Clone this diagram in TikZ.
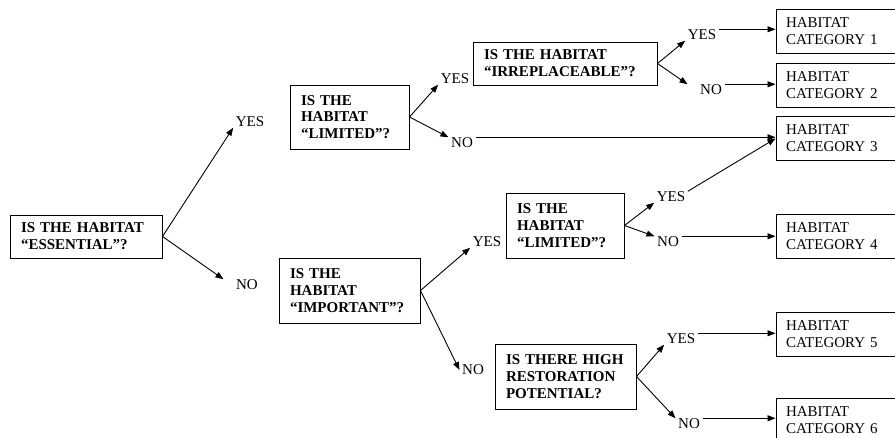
\documentclass[tikz,border=0pt]{standalone}
\usepackage{fontspec}
\setmainfont{Liberation Serif}
\usetikzlibrary{arrows.meta, positioning, calc}

\begin{document}
\begin{tikzpicture}[
    x=1pt, y=-1pt,
    >={Triangle[length=8pt, width=6pt]},
    font=\fontsize{15}{16.8}\selectfont,
    question/.style={
        draw=black,
        line width=1pt,
        font=\fontsize{15}{16.8}\selectfont\bfseries,
        align=left,
        inner xsep=11pt,
        inner ysep=0pt
    },
    category/.style={
        draw=black,
        line width=1pt,
        align=left,
        inner xsep=10pt,
        inner ysep=0pt,
        text width=104pt,
        minimum height=44pt
    },
    answer/.style={
        inner xsep=2.5pt,
        inner ysep=0.5pt
    },
    branch/.style={
        ->,
        line width=0.9pt,
        draw=black
    }
]

\useasboundingbox (0,0) rectangle (895,437);
\clip (0,0) rectangle (895,437);

% questions
\node[question, text width=130pt, minimum height=43pt] (ess)  at (86,236.5)   {IS THE HABITAT\\“ESSENTIAL”?};
\node[question, text width=97pt,  minimum height=64pt] (lim1) at (349.5,117)  {IS THE\\HABITAT\\“LIMITED”?};
\node[question, text width=162pt, minimum height=43pt] (irr)  at (565,63.5)   {IS THE HABITAT\\“IRREPLACEABLE”?};
\node[question, text width=119pt, minimum height=65pt] (imp)  at (349.5,290.5) {IS THE\\HABITAT\\“IMPORTANT”?};
\node[question, text width=96pt,  minimum height=65pt] (lim2) at (565,225.5)  {IS THE\\HABITAT\\“LIMITED”?};
\node[question, text width=119pt, minimum height=65pt] (res)  at (565.5,376.5) {IS THERE HIGH\\RESTORATION\\POTENTIAL?};

% categories
\node[category] (cat1) at (838,31)    {HABITAT\\CATEGORY 1};
\node[category] (cat2) at (838,85.5)  {HABITAT\\CATEGORY 2};
\node[category] (cat3) at (838,138.5) {HABITAT\\CATEGORY 3};
\node[category] (cat4) at (838,236)   {HABITAT\\CATEGORY 4};
\node[category] (cat5) at (838,334)   {HABITAT\\CATEGORY 5};
\node[category] (cat6) at (838,420)   {HABITAT\\CATEGORY 6};

% answers
\node[answer] (yes1) at (250,122) {YES};
\node[answer] (no1)  at (247,285) {NO};
\node[answer] (yes2) at (455,79)  {YES};
\node[answer] (no2)  at (462,143) {NO};
\node[answer] (yes3) at (702,35)  {YES};
\node[answer] (no3)  at (711,90)  {NO};
\node[answer] (yes4) at (487,242) {YES};
\node[answer] (no4)  at (473,370) {NO};
\node[answer] (yes5) at (671,197) {YES};
\node[answer] (no5)  at (668,242) {NO};
\node[answer] (yes6) at (681,339) {YES};
\node[answer] (no6)  at (689,424) {NO};

% branches
\draw[branch] (ess.east) -- (yes1.south west);
\draw[branch] (ess.east) -- ([xshift=-10pt]no1.north west);

\draw[branch] (lim1.east) -- (yes2.south west);
\draw[branch] (lim1.east) -- (no2.north west);
\draw[branch] (no2.north east) -- (no2.north east -| cat3.west);

\draw[branch] (irr.east) -- (yes3.south west);
\draw[branch] (irr.east) -- ([xshift=-10pt]no3.north west);
\draw[branch] (yes3.north east) -- (yes3.north east -| cat1.west);
\draw[branch] (no3.north east) -- (no3.north east -| cat2.west);

\draw[branch] (imp.east) -- (yes4.south west);
\draw[branch] (imp.east) -- (no4.west);

\draw[branch] (lim2.east) -- (yes5.south west);
\draw[branch] (lim2.east) -- (no5.north west);
\draw[branch] (yes5.north east) -- (cat3.west);
\draw[branch] (no5.north east) -- (no5.north east -| cat4.west);

\draw[branch] (res.east) -- (yes6.south west);
\draw[branch] (res.east) -- (no6.north west);
\draw[branch] (yes6.north east) -- (yes6.north east -| cat5.west);
\draw[branch] (no6.north east) -- (no6.north east -| cat6.west);

\end{tikzpicture}
\end{document}
